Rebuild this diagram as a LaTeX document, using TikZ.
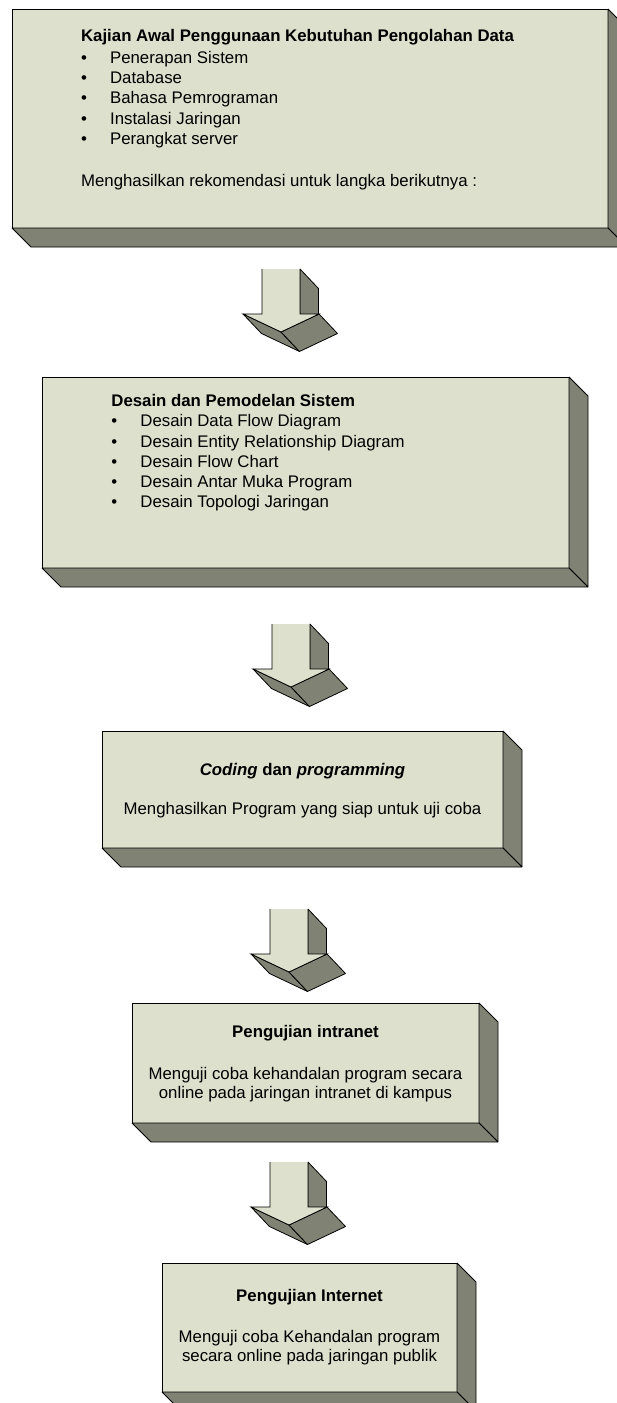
\documentclass[tikz,border=0pt]{standalone}
\usepackage{fontspec}
\setmainfont{Liberation Sans}
\usetikzlibrary{calc, positioning}
\definecolor{facegray}{RGB}{221,224,204}
\definecolor{sidegray}{RGB}{128,131,116}
\tikzstyle{stage}=[rectangle, draw, fill=facegray, inner sep=0pt, outer sep=0pt]
\tikzstyle{side}=[draw, fill=sidegray, line join=bevel]
\tikzstyle{stagetext}=[inner sep=0pt, font=\fontsize{16.8}{20.3}\selectfont]
\newcommand{\itm}{\makebox[29pt][l]{\textbullet}}
\newcommand{\stagedepth}[1]{\filldraw[side] (#1.north east) -- ++(19,19) -- ($(#1.south east)+(19,19)$) -- (#1.south east) -- cycle;
\filldraw[side] (#1.south west) -- ++(19,19) -- ($(#1.south east)+(19,19)$) -- (#1.south east) -- cycle;}
\newcommand{\blockarrow}[1]{\begin{scope}[shift={(#1)}]
\filldraw[side] (38,0) -- (56.5,19.5) -- (56.5,64.5) -- (38,45) -- cycle;
\filldraw[side] (-19,45) -- (19,63) -- (37.5,82.5) -- (-0.5,64.5) -- cycle;
\filldraw[side] (19,63) -- (57,45) -- (75.5,64.5) -- (37.5,82.5) -- cycle;
\fill[facegray] (0,0) -- (38,0) -- (38,45) -- (57,45) -- (19,63) -- (-19,45) -- (0,45) -- cycle;
\draw (0,0) -- (0,45) -- (-19,45) -- (19,63) -- (57,45) -- (38,45) -- (38,0);
\end{scope}}
\begin{document}
\begin{tikzpicture}[thick, x=1pt, y=-1pt]
\useasboundingbox (0,0) rectangle (616,1403);
\node[stage, minimum width=596pt, minimum height=219pt] (b1) at (310,118.5){};
\node[stage, minimum width=527pt, minimum height=191pt] (b2) at (305.5,472.5){};
\node[stage, minimum width=401pt, minimum height=117pt] (b3) at (302.5,789.5){};
\node[stage, minimum width=347pt, minimum height=120pt] (b4) at (305.5,1063){};
\node[stage, minimum width=295pt, minimum height=129pt] (b5) at (309.5,1327.5){};
\stagedepth{b1} \stagedepth{b2} \stagedepth{b3} \stagedepth{b4} \stagedepth{b5}

% base anchor = baseline of the last line
\node[stagetext, anchor=base west, align=left] (t1) at ($(b1.north west)+(68.7,177.7)$)
 {\textbf{Kajian Awal Penggunaan Kebutuhan Pengolahan Data}\\[1.3pt] \itm Penerapan Sistem\\ \itm Database\\
 \itm Bahasa Pemrograman\\ \itm Instalasi Jaringan\\ \itm Perangkat server\\[22pt] Menghasilkan rekomendasi untuk langka berikutnya :};
\node[stagetext, anchor=base west, align=left] (t2) at ($(b2.north west)+(69,130.9)$)
 {\textbf{Desain dan Pemodelan Sistem}\\ \itm Desain Data Flow Diagram\\ \itm Desain Entity Relationship Diagram\\
 \itm Desain Flow Chart\\ \itm Desain Antar Muka Program\\ \itm Desain Topologi Jaringan};
\node[stagetext, anchor=base, align=center] (t3) at ($(b3.north)+(0,83.3)$)
 {\textbf{\textit{Coding} dan \textit{programming}}\\[19pt] Menghasilkan Program yang siap untuk uji coba};
\node[stagetext, anchor=base, align=center, font=\fontsize{16.8}{19.3}\selectfont] (t4) at ($(b4.north)+(0,95.3)$)
 {\textbf{Pengujian intranet}\\[22pt] Menguji coba kehandalan program secara\\ online pada jaringan intranet di kampus};
\node[stagetext, anchor=base, align=center, font=\fontsize{16.8}{19.3}\selectfont] (t5) at ($(b5.north)+(0,98.7)$)
 {\textbf{Pengujian Internet}\\[21.3pt] Menguji coba Kehandalan program\\ secara online pada jaringan publik};

\coordinate (a1) at (262,269); \coordinate (a2) at (272,624);
\coordinate (a3) at (270,909); \coordinate (a4) at (270,1162);
\blockarrow{a1} \blockarrow{a2} \blockarrow{a3} \blockarrow{a4}
\end{tikzpicture}
\end{document}
